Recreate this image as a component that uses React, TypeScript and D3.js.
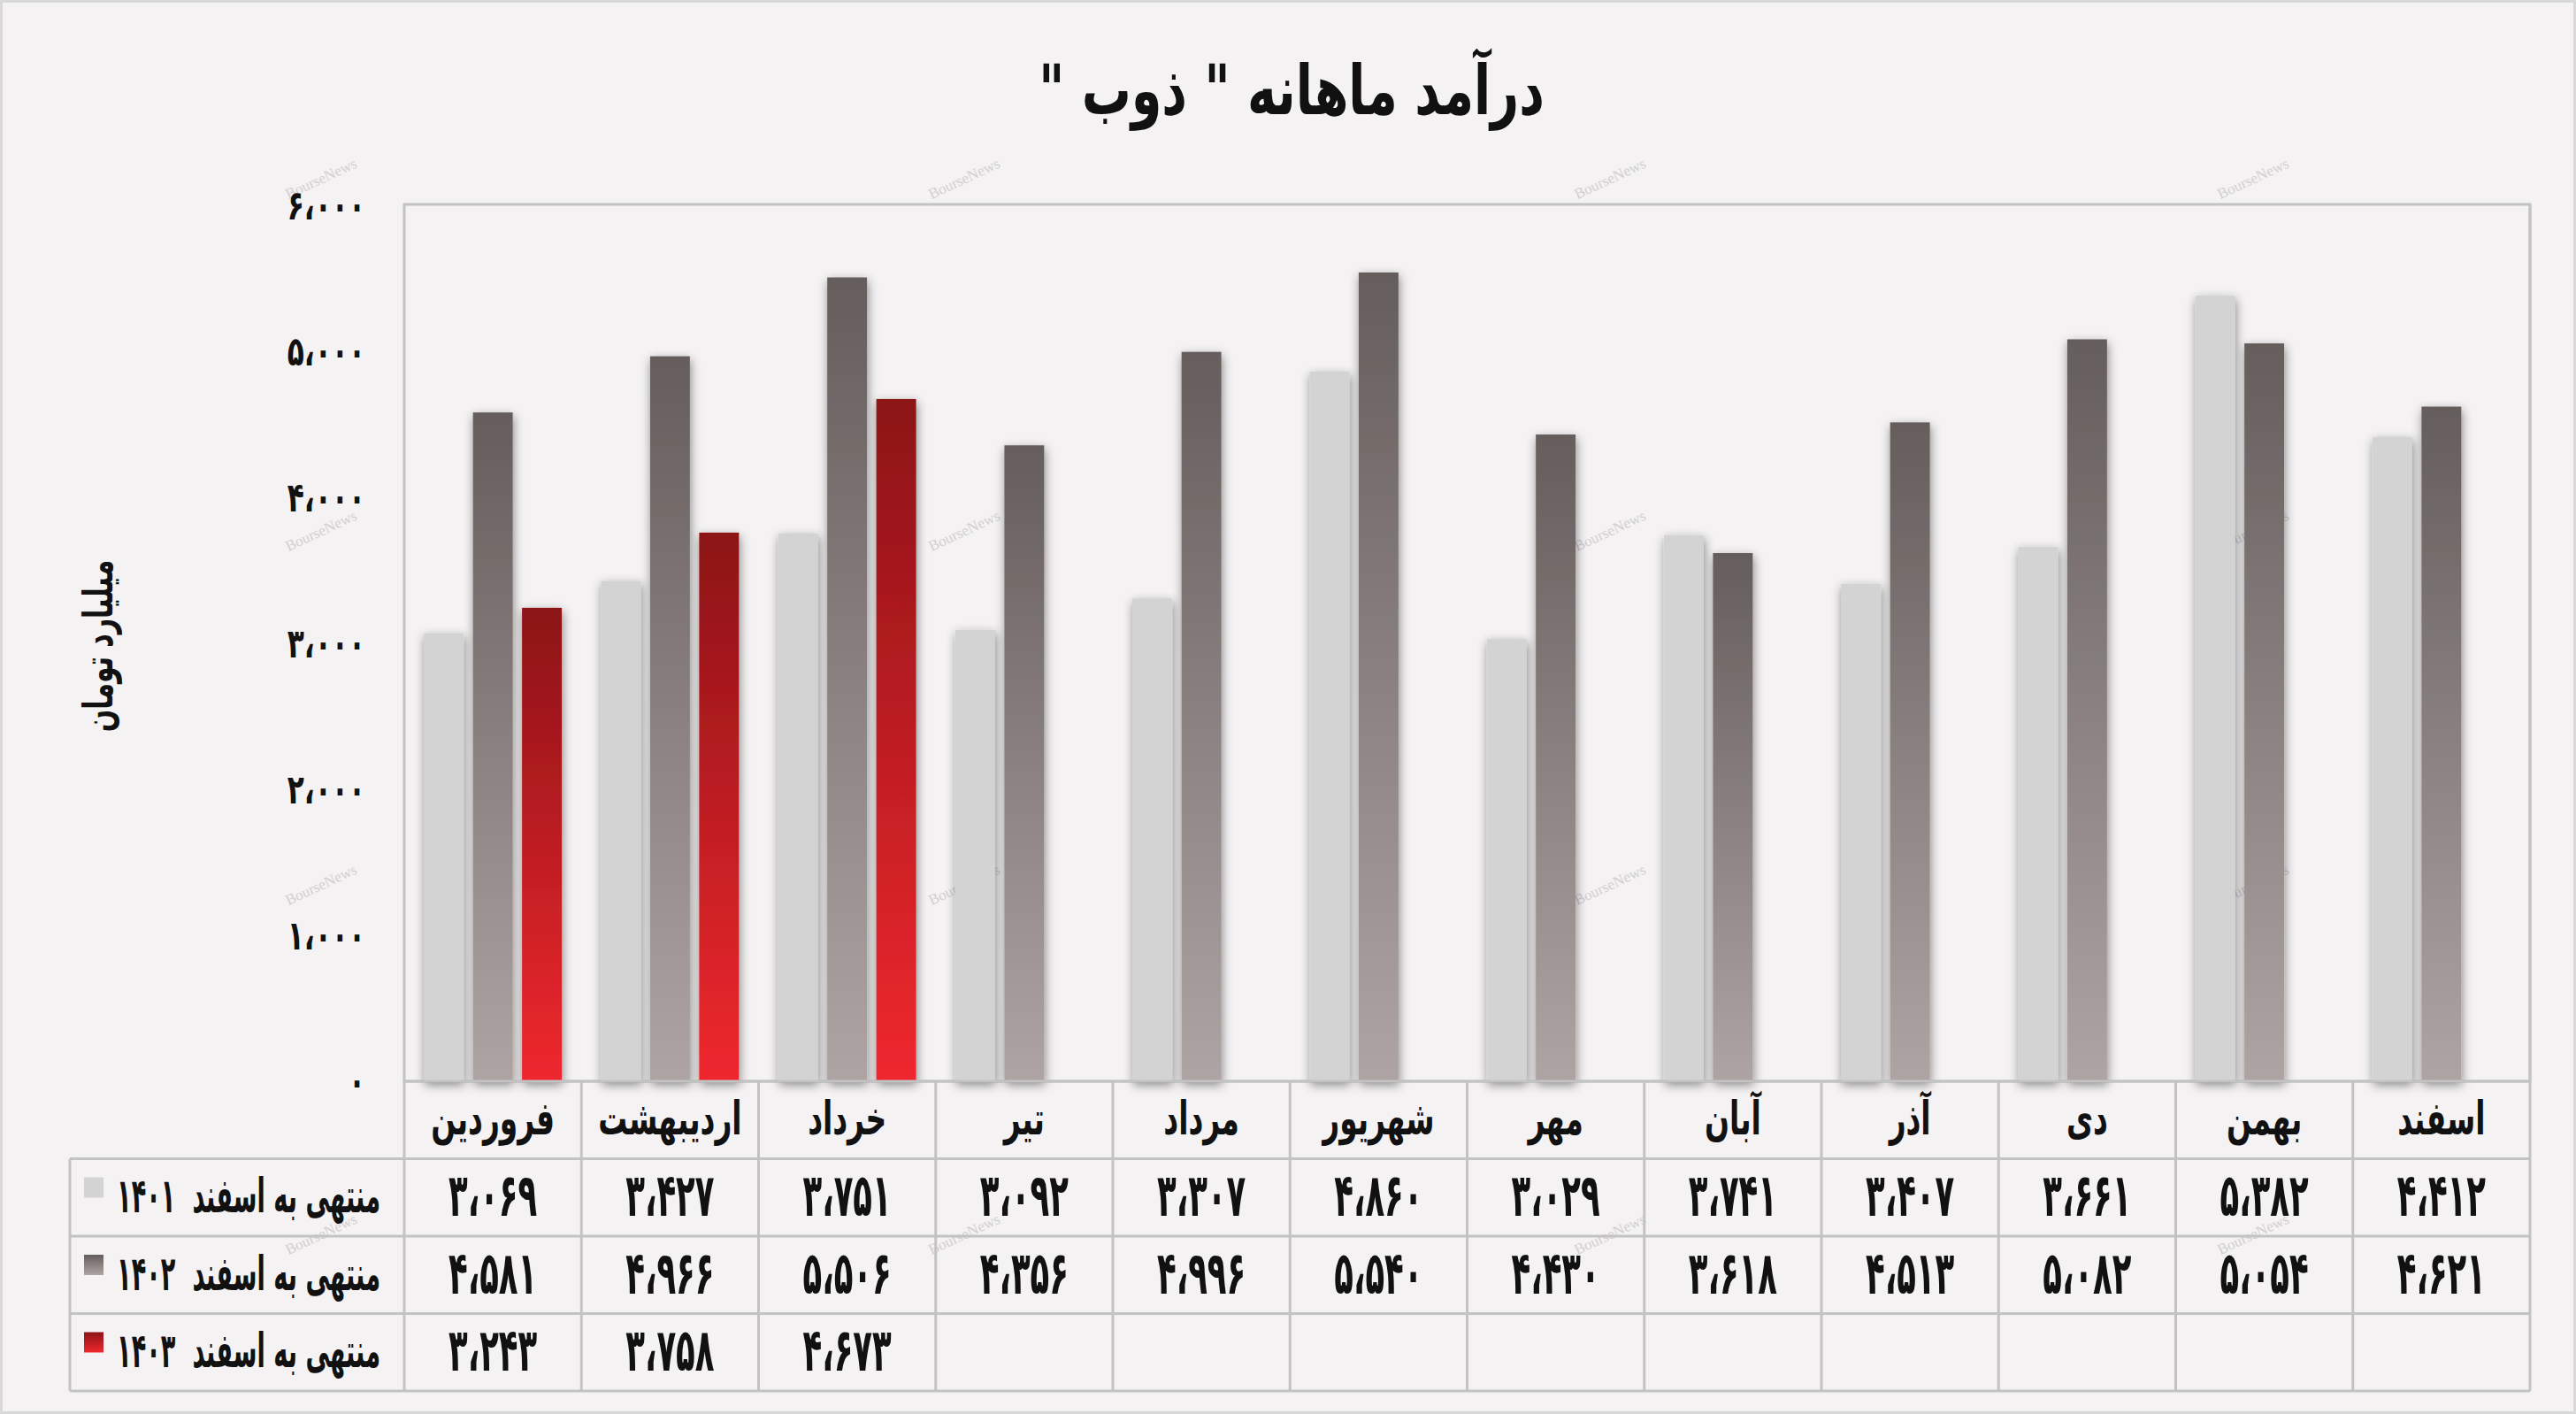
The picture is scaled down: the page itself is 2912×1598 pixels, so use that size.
import React from 'react';
import * as d3 from 'd3';

const months = ['فروردین', 'اردیبهشت', 'خرداد', 'تیر', 'مرداد', 'شهریور', 'مهر', 'آبان', 'آذر', 'دی', 'بهمن', 'اسفند'];
const v1401 = [3069, 3427, 3751, 3092, 3307, 4860, 3029, 3741, 3407, 3661, 5382, 4412];
const v1402 = [4581, 4966, 5506, 4356, 4996, 5540, 4430, 3618, 4513, 5082, 5054, 4621];
const v1403 = [3243, 3758, 4673];
const seriesKeys = ['1401', '1402', '1403'];
const seriesLabels = ['منتهی به اسفند  ۱۴۰۱', 'منتهی به اسفند  ۱۴۰۲', 'منتهی به اسفند  ۱۴۰۳'];
const yTicks = [0, 1000, 2000, 3000, 4000, 5000, 6000];
const title = 'درآمد ماهانه " ذوب "';
const yTitle = 'میلیارد تومان';

const W = 2912;
const H = 1598;
const FONT = '"DejaVu Sans", sans-serif';

const faDigits = '۰۱۲۳۴۵۶۷۸۹';
const toFa = (n: number) =>
  d3.format(',')(n).replace(/\d/g, (d) => faDigits[+d]).replace(/,/g, '،');

type TxtProps = {
  x: number;
  y: number;
  sx?: number;
  sy?: number;
  rot?: number;
  size: number;
  anchor?: 'start' | 'middle' | 'end';
  rtl?: boolean;
  children: React.ReactNode;
};

function Txt({ x, y, sx = 1, sy = 1, rot = 0, size, anchor = 'middle', rtl = false, children }: TxtProps) {
  return (
    <text
      transform={`translate(${x} ${y}) rotate(${rot}) scale(${sx} ${sy})`}
      textAnchor={anchor}
      dominantBaseline="central"
      direction={rtl ? 'rtl' : undefined}
      fontSize={size}
      fontWeight="bold"
      fill="#111"
      style={{ whiteSpace: 'pre' }}
    >
      {children}
    </text>
  );
}

export default function App() {
  const left = 457;
  const right = 2860;
  const top = 232;
  const bottom = 1222;
  const tableLeft = 79;
  const rowH = 87.5;

  const x = d3.scaleBand<string>().domain(months).range([left, right]).padding(0);
  const sub = d3
    .scaleBand<string>()
    .domain(seriesKeys)
    .range([0, x.bandwidth()])
    .paddingInner(0.19)
    .paddingOuter(0.4);
  const y = d3.scaleLinear().domain([0, 6000]).range([bottom, top]);

  const series = [v1401, v1402, v1403];
  const fills = ['#d3d3d3', 'url(#g1402)', 'url(#g1403)'];

  const rowsY = [bottom, bottom + rowH, bottom + 2 * rowH, bottom + 3 * rowH, bottom + 4 * rowH];

  const watermarkXs = [363, 1090, 1820, 2547];
  const watermarkYs = [202, 600, 1000, 1395];

  return (
    <svg
      width={W}
      height={H}
      style={{ position: 'absolute', left: 0, top: 0, display: 'block' }}
      fontFamily={FONT}
    >
      <defs>
        <linearGradient id="g1402" x1="0" y1="0" x2="0" y2="1">
          <stop offset="0" stopColor="#655d5c" />
          <stop offset="1" stopColor="#aea4a3" />
        </linearGradient>
        <linearGradient id="g1403" x1="0" y1="0" x2="0" y2="1">
          <stop offset="0" stopColor="#8c1317" />
          <stop offset="1" stopColor="#ef282e" />
        </linearGradient>
        <filter id="shadow" x="-50%" y="-10%" width="200%" height="130%">
          <feDropShadow dx="1" dy="4" stdDeviation="6" floodColor="#000" floodOpacity="0.45" />
        </filter>
      </defs>

      <rect x={0} y={0} width={W} height={H} fill="#f4f2f3" />
      <rect x={1.5} y={1.5} width={W - 3} height={H - 3} fill="none" stroke="#d8d8d8" strokeWidth={3} />

      {/* watermarks */}
      {watermarkYs.map((wy) =>
        watermarkXs.map((wx) => (
          <text
            key={`${wx}-${wy}`}
            x={wx}
            y={wy}
            transform={`rotate(-25 ${wx} ${wy})`}
            textAnchor="middle"
            dominantBaseline="central"
            fontFamily='"Liberation Serif", serif'
            fontSize={17}
            fill="#d2cfd0"
          >
            BourseNews
          </text>
        ))
      )}

      {/* title */}
      <Txt x={1460} y={102} size={60} sx={0.93} sy={1.3} rtl>
        {title}
      </Txt>

      {/* y axis title */}
      <Txt x={111} y={730} rot={-90} size={34} sx={0.88} sy={1.35} rtl>
        {yTitle}
      </Txt>

      {/* y ticks */}
      {yTicks.map((t) => (
        <Txt key={t} x={413} y={y(t)} size={34} sx={0.92} sy={1.35} anchor="end">
          {toFa(t)}
        </Txt>
      ))}

      {/* plot frame */}
      <rect x={left} y={top - 1} width={right - left} height={bottom - top + 1} fill="none" stroke="#c2c2c2" strokeWidth={3} />

      {/* bars */}
      {months.map((m, i) => (
        <g key={m} transform={`translate(${x(m)},0)`}>
          {series.map((vals, s) =>
            vals[i] === undefined ? null : (
              <rect
                key={s}
                x={sub(seriesKeys[s])}
                y={y(vals[i])}
                width={sub.bandwidth()}
                height={bottom - y(vals[i])}
                fill={fills[s]}
                filter="url(#shadow)"
              />
            )
          )}
        </g>
      ))}

      {/* table grid */}
      <g stroke="#c3c3c3" strokeWidth={3}>
        <line x1={left} x2={right} y1={bottom} y2={bottom} />
        {rowsY.slice(1).map((ry) => (
          <line key={ry} x1={tableLeft} x2={right} y1={ry} y2={ry} />
        ))}
        <line x1={tableLeft} x2={tableLeft} y1={rowsY[1]} y2={rowsY[4]} />
        {months.map((m) => (
          <line key={m} x1={x(m)} x2={x(m)} y1={bottom} y2={rowsY[4]} />
        ))}
        <line x1={right} x2={right} y1={top - 1} y2={rowsY[4]} />
      </g>

      {/* month labels */}
      {months.map((m) => (
        <Txt
          key={m}
          x={(x(m) as number) + x.bandwidth() / 2}
          y={(rowsY[0] + rowsY[1]) / 2 - 2}
          size={40}
          sx={0.82}
          sy={1.3}
          rtl
        >
          {m}
        </Txt>
      ))}

      {/* values */}
      {series.map((vals, s) =>
        vals.map((v, i) => (
          <Txt
            key={`${s}-${i}`}
            x={(x(months[i]) as number) + x.bandwidth() / 2}
            y={(rowsY[s + 1] + rowsY[s + 2]) / 2 - 2}
            size={48}
            sx={0.74}
            sy={1.4}
          >
            {toFa(v)}
          </Txt>
        ))
      )}

      {/* legend column */}
      {seriesLabels.map((lab, s) => (
        <g key={lab}>
          <rect x={95} y={rowsY[s + 1] + 21} width={22} height={23} fill={fills[s]} />
          <Txt x={430} y={(rowsY[s + 1] + rowsY[s + 2]) / 2 - 2} size={40} sx={0.68} sy={1.35} anchor="end">
            {lab}
          </Txt>
        </g>
      ))}
    </svg>
  );
}
